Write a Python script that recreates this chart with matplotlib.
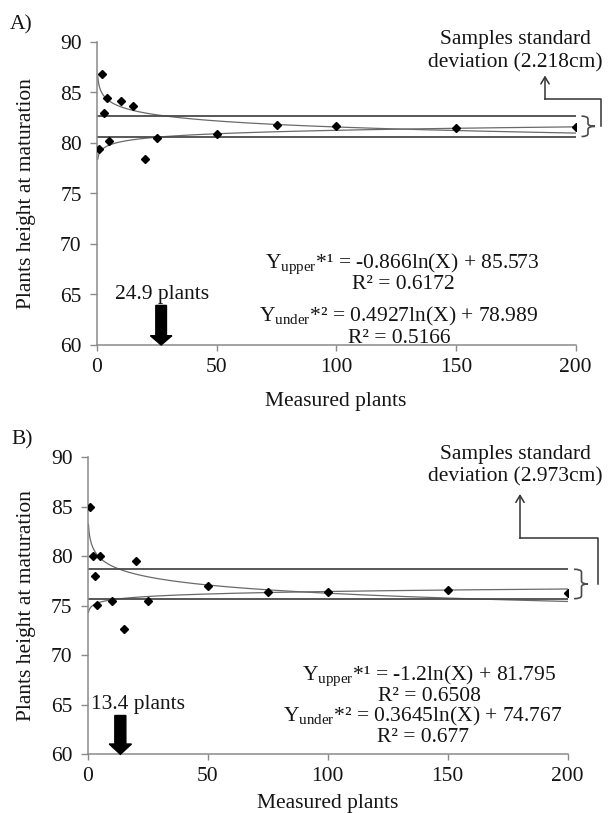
import numpy as np
import matplotlib
matplotlib.use("Agg")
import matplotlib.pyplot as plt
import matplotlib.transforms as mtransforms
from matplotlib.lines import Line2D
from matplotlib.patches import FancyArrow, FancyArrowPatch, PathPatch
from matplotlib.path import Path

# ---------------- data ----------------
measured = [1, 2, 3, 4, 5, 10, 15, 20, 25, 50, 75, 100, 150, 200]
height_a = [79.4, 86.8, 83.0, 84.5, 80.2, 84.2, 83.7, 78.4, 80.5, 80.9, 81.8, 81.7, 81.5, 81.6]
height_b = [85.0, 80.0, 78.0, 75.1, 80.0, 75.5, 72.7, 79.5, 75.5, 77.0, 76.4, 76.4, 76.6, 76.3]

# trendline coefficients (slope, intercept) for y = a*ln(x) + b
upper_a = (-0.866, 85.573)
under_a = (0.4927, 78.989)
upper_b = (-1.2, 81.795)
under_b = (0.3645, 74.767)
trend_x_start = 0.3

# horizontal limits (standard deviation band)
band_a = [82.66, 80.64]
band_b = [78.69, 75.72]

# minimum sample size arrows
arrow_x_a = 26.8
arrow_x_b = 13.6
arrow_label_a = "24.9 plants"
arrow_label_b = "13.4 plants"

sd_label_a = "deviation (2.218cm)"
sd_label_b = "deviation (2.973cm)"

eq_a = [r"Y$_{\mathrm{upper}}$*¹ = -0.866ln(X) + 85.573", "R² = 0.6172",
        r"Y$_{\mathrm{under}}$*² = 0.4927ln(X) + 78.989", "R² = 0.5166"]
eq_b = [r"Y$_{\mathrm{upper}}$*¹ = -1.2ln(X) + 81.795", "R² = 0.6508",
        r"Y$_{\mathrm{under}}$*² = 0.3645ln(X) + 74.767", "R² = 0.677"]

xticks = [0, 50, 100, 150, 200]
yticks = [60, 65, 70, 75, 80, 85, 90]

# ---------------- style ----------------
plt.rcParams['font.family'] = ['Liberation Serif', 'DejaVu Serif']
plt.rcParams['mathtext.fontset'] = 'custom'
plt.rcParams['mathtext.rm'] = 'Liberation Serif'
plt.rcParams['mathtext.it'] = 'Liberation Serif:italic'
plt.rcParams['mathtext.bf'] = 'Liberation Serif:bold'
FS = 15.5
TXT = '#141414'
AX = '#8a8a8a'
HL = '#4a4a4a'
CV = '#6a6a6a'

W, H = 608, 813
fig = plt.figure(figsize=(W / 100, H / 100), dpi=100)
pix = mtransforms.Affine2D().scale(1 / W, -1 / H).translate(0, 1) + fig.transFigure


def make_axes(left, right, top, bottom):
    ax = fig.add_axes([left / W, 1 - bottom / H, (right - left) / W, (bottom - top) / H])
    ax.set_xlim(0, 200)
    ax.set_ylim(60, 90)
    ax.set_xticks(xticks)
    ax.set_yticks(yticks)
    for s in ['top', 'right']:
        ax.spines[s].set_visible(False)
    for s in ['left', 'bottom']:
        ax.spines[s].set_color(AX)
        ax.spines[s].set_linewidth(1.1)
    ax.tick_params(axis='both', colors=AX, labelcolor=TXT, labelsize=FS, width=1.0, direction='out')
    ax.tick_params(axis='y', length=5, pad=6)
    ax.tick_params(axis='x', length=4, pad=5)
    return ax


def draw_panel(ax, heights, up, un, band, arrow_x, head_len, shaft_w, head_w):
    xs = np.linspace(trend_x_start, 200, 800)
    ax.plot(xs, up[0] * np.log(xs) + up[1], color=CV, lw=0.9, zorder=2)
    ax.plot(xs, un[0] * np.log(xs) + un[1], color=CV, lw=0.9, zorder=2)
    for b in band:
        ax.axhline(b, color=HL, lw=1.3, zorder=2)
    ax.plot(measured, heights, linestyle='none', marker='D', ms=4.0, color='black', zorder=3)
    arr = FancyArrow(arrow_x, 60 + 3.92, 0, -3.92, width=shaft_w, head_width=head_w,
                     head_length=head_len, length_includes_head=True, color='black',
                     clip_on=False, zorder=4)
    ax.add_patch(arr)


def draw_brace(ax, band, x_left, x_spine, x_tip, d):
    tr = mtransforms.blended_transform_factory(pix, ax.transData)
    top, bot = max(band), min(band)
    mid = (top + bot) / 2
    verts = [(x_left, top), (x_spine, top), (x_spine, top - d),
             (x_spine, mid + d),
             (x_spine, mid), (x_tip, mid),
             (x_spine, mid), (x_spine, mid - d),
             (x_spine, bot + d),
             (x_spine, bot), (x_left, bot)]
    codes = [Path.MOVETO, Path.CURVE3, Path.CURVE3, Path.LINETO, Path.CURVE3, Path.CURVE3,
             Path.CURVE3, Path.CURVE3, Path.LINETO, Path.CURVE3, Path.CURVE3]
    fig.add_artist(PathPatch(Path(verts, codes), transform=tr, fill=False, edgecolor=HL, lw=1.2))


def connector(x_right, y_low, y_mid, x_arrow, y_tip):
    fig.add_artist(Line2D([x_right, x_right, x_arrow], [y_low, y_mid, y_mid],
                          transform=pix, color='#333333', lw=1.1))
    fig.add_artist(FancyArrowPatch((x_arrow, y_mid), (x_arrow, y_tip), transform=pix,
                                   arrowstyle='->,head_length=0.5,head_width=0.3',
                                   mutation_scale=10, lw=1.1, color='#333333',
                                   shrinkA=0, shrinkB=0))


def ftext(x, y, s, **kw):
    kw.setdefault('ha', 'center')
    kw.setdefault('va', 'baseline')
    fig.text(x, y, s, transform=pix, fontsize=FS, color=TXT, **kw)


# ---------------- panel A ----------------
axA = make_axes(97, 575.7, 42, 345)
draw_panel(axA, height_a, upper_a, under_a, band_a, arrow_x_a, 0.92, 4.45, 9.0)
draw_brace(axA, band_a, 581.5, 588, 595, 0.3)
connector(600.5, 126.2, 99.3, 545, 75.5)
ftext(10, 29.3, "A)", ha='left')
ftext(515.5, 44, "Samples standard")
ftext(515.5, 67, sd_label_a)
ftext(402.5, 268.3, eq_a[0])
ftext(403.3, 289.3, eq_a[1])
ftext(399, 321.7, eq_a[2])
ftext(399.2, 342.7, eq_a[3])
ftext(162.5, 299, arrow_label_a)
ftext(336, 406, "Measured plants")
ftext(27, 193.5, "Plants height at maturation", rotation=90, va='center')

# ---------------- panel B ----------------
axB = make_axes(87.7, 567.7, 457.3, 754.3)
draw_panel(axB, height_b, upper_b, under_b, band_b, arrow_x_b, 1.04, 4.6, 9.3)
draw_brace(axB, band_b, 574, 581.5, 588, 0.3)
connector(597.7, 584, 538.3, 520, 494)
ftext(11.7, 444, "B)", ha='left')
ftext(515.5, 459, "Samples standard")
ftext(515.5, 481.7, sd_label_b)
ftext(429.2, 680, eq_b[0])
ftext(430, 700.7, eq_b[1])
ftext(423.3, 721.7, eq_b[2])
ftext(423.3, 742.3, eq_b[3])
ftext(138.2, 709.3, arrow_label_b)
ftext(327.7, 808, "Measured plants")
ftext(27, 605.8, "Plants height at maturation", rotation=90, va='center')

fig.savefig("out.png", dpi=100)
